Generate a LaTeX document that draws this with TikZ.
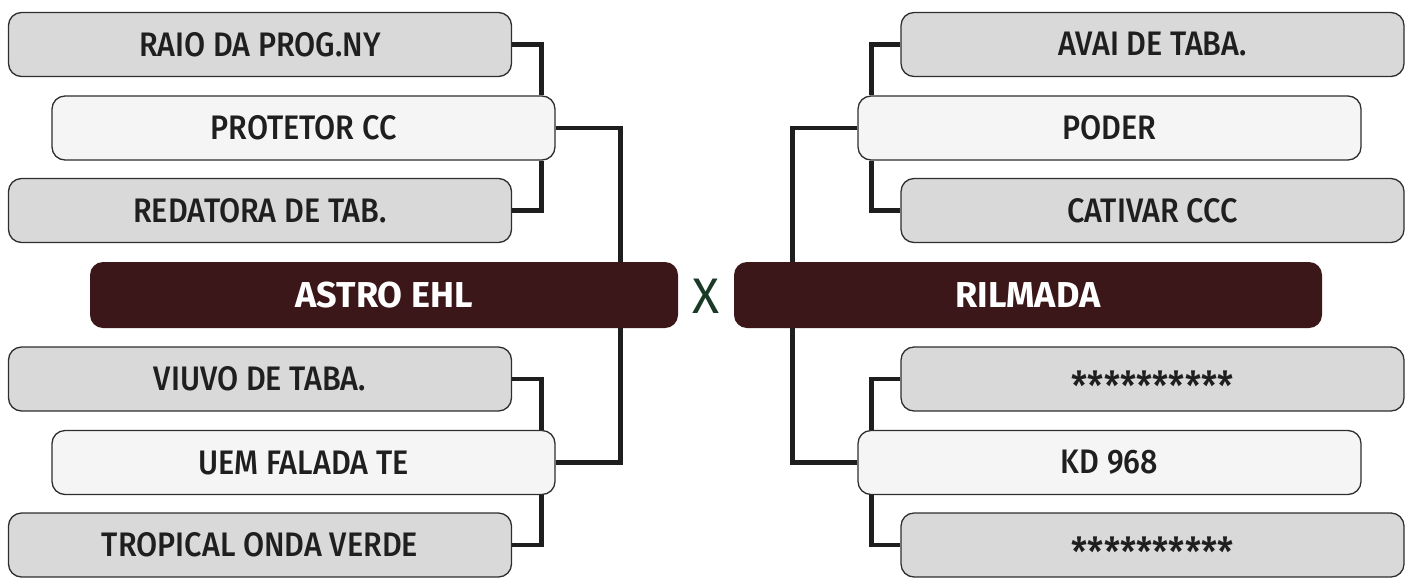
\documentclass[tikz,border=0pt]{standalone}
\usepackage{fontspec}
\setmainfont{Fira Sans}[UprightFont=* Medium, FakeStretch=0.9]
\newfontfamily\teamfont{Fira Sans}[UprightFont=* Bold]
\newfontfamily\xfont{Fira Sans}
\usepackage{tikz}

\definecolor{boxgray}{HTML}{D9D9D9}
\definecolor{boxlight}{HTML}{F5F5F5}
\definecolor{boxline}{HTML}{2E2E2E}
\definecolor{teamred}{HTML}{3B171A}
\definecolor{vsgreen}{HTML}{1B3A26}
\definecolor{wire}{HTML}{1E1E1E}

\newcommand{\hidden}{\raisebox{-21pt}[0pt][0pt]{\fontsize{40}{44}\selectfont **********}}

\tikzset{
  slot/.style={draw=boxline, line width=1.3pt, rounded corners=13pt,
    minimum width=503pt, minimum height=64pt, inner sep=0pt,
    font=\fontsize{34}{38}\selectfont, text=black!88},
  lower/.style={slot, fill=boxgray},
  upper/.style={slot, fill=boxlight},
  team/.style={fill=teamred, rounded corners=13pt, minimum width=588pt,
    minimum height=66pt, inner sep=0pt, text=white,
    font=\teamfont\fontsize{36}{40}\selectfont},
  wire/.style={draw=wire, line width=4.5pt}
}

\begin{document}
\begin{tikzpicture}[x=1pt,y=-1pt]
\useasboundingbox (0,0) rectangle (1412,579);
% left side
\node[lower] (raio) at (260,44.5) {RAIO DA PROG.NY};
\node[upper] (protetor) at (303.5,128) {PROTETOR CC};
\node[lower] (redatora) at (260,210.5) {REDATORA DE TAB.};
\node[lower] (viuvo) at (260,379) {VIUVO DE TABA.};
\node[upper] (uem) at (303.5,462.5) {UEM FALADA TE};
\node[lower] (tropical) at (260,545) {TROPICAL ONDA VERDE};
% right side
\node[lower] (avai) at (1152.5,44.5) {AVAI DE TABA.};
\node[upper] (poder) at (1109.5,128) {PODER};
\node[lower] (cativar) at (1152.5,210.5) {CATIVAR CCC};
\node[lower] (starsa) at (1152.5,379) {\hidden};
\node[upper] (kd) at (1109.5,462.5) {KD 968};
\node[lower] (starsb) at (1152.5,545) {\hidden};

\draw[wire] (raio.east) -| ([xshift=-14pt]protetor.north east);
\draw[wire] (redatora.east) -| ([xshift=-14pt]protetor.south east);
\draw[wire] (viuvo.east) -| ([xshift=-14pt]uem.north east);
\draw[wire] (tropical.east) -| ([xshift=-14pt]uem.south east);
\draw[wire] (avai.west) -| ([xshift=14pt]poder.north west);
\draw[wire] (cativar.west) -| ([xshift=14pt]poder.south west);
\draw[wire] (starsa.west) -| ([xshift=14pt]kd.north west);
\draw[wire] (starsb.west) -| ([xshift=14pt]kd.south west);
\draw[wire] (protetor.east) -- ++(65,0) |- (uem.east);
\draw[wire] (poder.west) -- ++(-65,0) |- (kd.west);

\node[team] (astro) at (384,295) {ASTRO EHL};
\node[team] (rilmada) at (1028,295) {RILMADA};
\node[text=vsgreen, font=\xfont\fontsize{50}{54}\selectfont] (vs) at (706,296) {X};
\end{tikzpicture}
\end{document}
